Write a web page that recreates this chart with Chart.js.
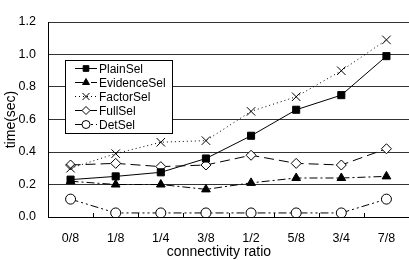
<!DOCTYPE html>
<html>
<head>
<meta charset="utf-8">
<script src="https://cdn.jsdelivr.net/npm/chart.js@4"></script>
<style>
  html, body { margin: 0; padding: 0; background: #fff; overflow: hidden; }
  #wrap { width: 409px; height: 260px; overflow: hidden; }
</style>
</head>
<body>
<div id="wrap"><canvas id="chart" width="416" height="260"></canvas></div>
<script>
// === Data ===
const categories = ['0/8', '1/8', '1/4', '3/8', '1/2', '5/8', '3/4', '7/8'];
const plainSel    = [0.23, 0.25, 0.275, 0.36, 0.50, 0.66, 0.75, 0.99];
const evidenceSel = [0.22, 0.20, 0.20, 0.17, 0.21, 0.24, 0.24, 0.25];
const factorSel   = [0.30, 0.39, 0.46, 0.47, 0.65, 0.74, 0.90, 1.09];
const fullSel     = [0.32, 0.33, 0.31, 0.32, 0.38, 0.33, 0.32, 0.42];
const detSel      = [0.11, 0.025, 0.025, 0.025, 0.025, 0.025, 0.025, 0.11];
const yTicks      = [0, 0.2, 0.4, 0.6, 0.8, 1.0, 1.2];

const FONT = "'Liberation Sans', Arial, sans-serif";

function series(label, data, style, dash, fill, radius) {
  return {
    label: label,
    data: data,
    borderColor: '#000',
    borderWidth: 1,
    borderDash: dash,
    pointStyle: style,
    pointRadius: radius,
    pointBorderColor: '#000',
    pointBackgroundColor: fill,
    pointBorderWidth: 1,
    tension: 0
  };
}

// === Legend inside plot + x ticks + x title ===
const extras = {
  id: 'extras',
  afterDraw(chart) {
    const ctx = chart.ctx;
    const x = chart.scales.x;
    const area = chart.chartArea;
    ctx.save();

    // small tick marks between categories, pointing up
    ctx.strokeStyle = '#000';
    ctx.lineWidth = 1;
    const step = x.getPixelForValue(1) - x.getPixelForValue(0);
    for (let i = 1; i < categories.length; i++) {
      const px = Math.round(x.getPixelForValue(i) - step / 2) + 0.5;
      ctx.beginPath();
      ctx.moveTo(px, area.bottom);
      ctx.lineTo(px, area.bottom - 4);
      ctx.stroke();
    }

    // x title
    ctx.fillStyle = '#000';
    ctx.font = '14px ' + FONT;
    ctx.textAlign = 'center';
    ctx.textBaseline = 'middle';
    ctx.fillText('connectivity ratio', 219, 252);

    // legend box
    ctx.font = '12px ' + FONT;
    const bx = 65.5, by = 60.5, bw = 107, bh = 73;
    ctx.fillStyle = '#fff';
    ctx.fillRect(bx, by, bw, bh);
    ctx.strokeRect(bx, by, bw, bh);
    ctx.textAlign = 'left';
    chart.data.datasets.forEach((ds, i) => {
      const y = 68.5 + i * 14;
      ctx.strokeStyle = '#000';
      ctx.setLineDash(ds.borderDash || []);
      ctx.beginPath();
      ctx.moveTo(75, y);
      ctx.lineTo(97, y);
      ctx.stroke();
      ctx.setLineDash([]);
      ctx.fillStyle = ds.pointBackgroundColor;
      Chart.helpers.drawPoint(ctx, {
        pointStyle: ds.pointStyle, radius: ds.pointRadius - 1, borderWidth: 1, rotation: 0
      }, 86, y);
      ctx.fillStyle = '#000';
      ctx.fillText(ds.label, 99, y + 1);
    });
    ctx.restore();
  }
};

new Chart(document.getElementById('chart'), {
  type: 'line',
  data: {
    labels: categories,
    datasets: [
      series('PlainSel', plainSel, 'rect', [], '#000', 5),
      series('EvidenceSel', evidenceSel, 'triangle', [8, 3, 2, 3], '#000', 5),
      series('FactorSel', factorSel, 'crossRot', [1, 3], '#fff', 6),
      series('FullSel', fullSel, 'rectRot', [10, 5], '#fff', 5),
      series('DetSel', detSel, 'circle', [8, 3, 2, 3, 2, 3], '#fff', 5)
    ]
  },
  options: {
    responsive: false,
    animation: false,
    layout: { padding: { top: 22, right: 0, left: 0, bottom: 0 } },
    plugins: { legend: { display: false }, tooltip: { enabled: false } },
    scales: {
      x: {
        offset: true,
        grid: { display: false, drawTicks: false },
        border: { color: '#000' },
        ticks: { color: '#000', font: { family: FONT, size: 12.5 }, padding: 14, maxRotation: 0 },
        afterFit(s) { s.height = 43; }
      },
      y: {
        min: 0,
        max: 1.2,
        afterBuildTicks(s) { s.ticks = yTicks.map(v => ({ value: v })); },
        grid: { color: '#333', drawTicks: false },
        border: { color: '#000' },
        ticks: {
          color: '#000',
          font: { family: FONT, size: 12.5 },
          padding: 12,
          callback: v => v.toFixed(1)
        },
        title: {
          display: true,
          text: 'time(sec)',
          color: '#000',
          font: { family: FONT, size: 14 },
          padding: { top: 3, bottom: 0 }
        },
        afterFit(s) { s.width = 48; }
      }
    }
  },
  plugins: [extras]
});
</script>
</body>
</html>
